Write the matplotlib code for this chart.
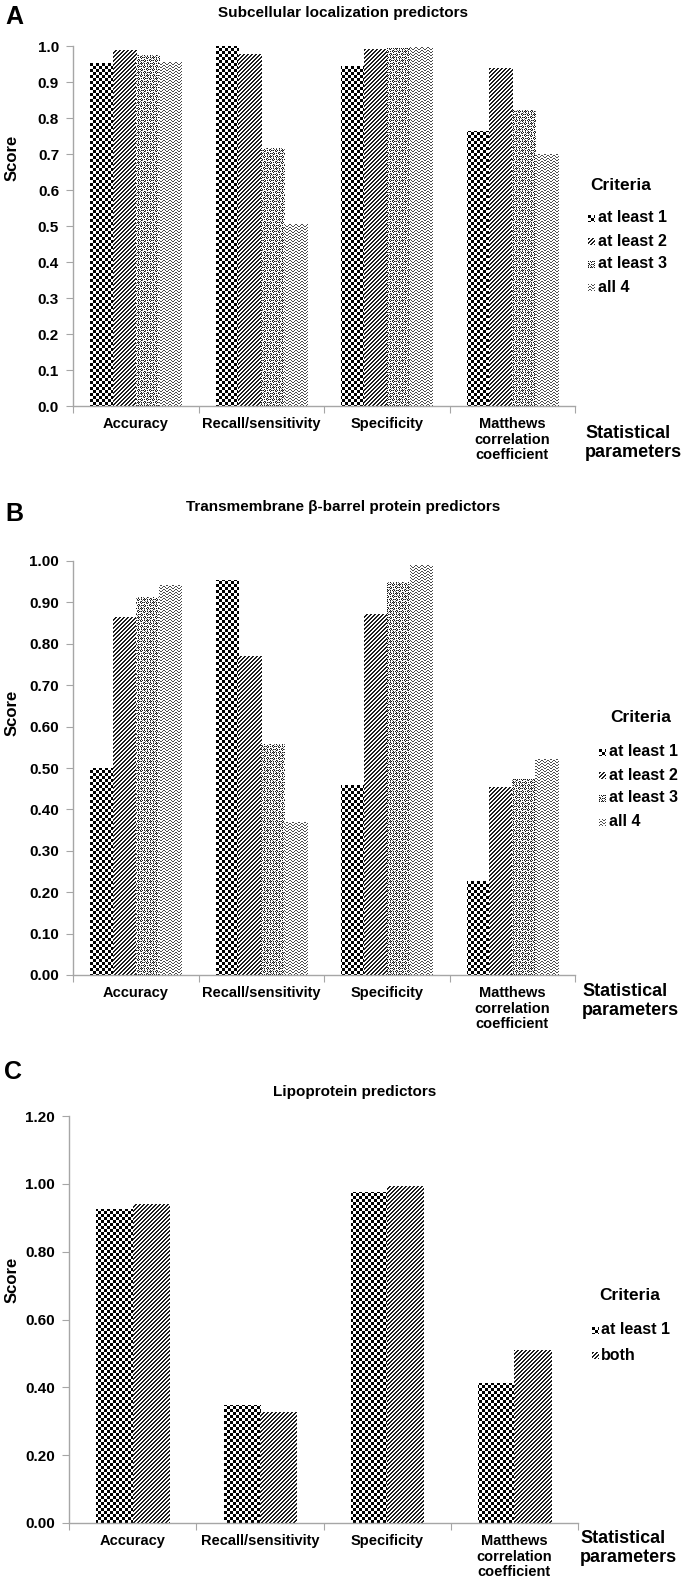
import numpy as np
import matplotlib
matplotlib.use('Agg')
import matplotlib.pyplot as plt

# ---------------- data ----------------
categories = ['Accuracy', 'Recall/sensitivity', 'Specificity',
              'Matthews\ncorrelation\ncoefficient']

a_title = 'Subcellular localization predictors'
a_labels = ['at least 1', 'at least 2', 'at least 3', 'all 4']
a_least1 = [0.952, 1.000, 0.945, 0.764]
a_least2 = [0.989, 0.977, 0.991, 0.938]
a_least3 = [0.975, 0.717, 0.994, 0.822]
a_all4 = [0.956, 0.506, 0.996, 0.699]
a_yticks = [0.0, 0.1, 0.2, 0.3, 0.4, 0.5, 0.6, 0.7, 0.8, 0.9, 1.0]
a_yticklabels = ['0.0', '0.1', '0.2', '0.3', '0.4', '0.5', '0.6', '0.7', '0.8', '0.9', '1.0']

b_title = 'Transmembrane β-barrel protein predictors'
b_labels = ['at least 1', 'at least 2', 'at least 3', 'all 4']
b_least1 = [0.500, 0.954, 0.459, 0.228]
b_least2 = [0.865, 0.770, 0.873, 0.455]
b_least3 = [0.914, 0.558, 0.949, 0.474]
b_all4 = [0.941, 0.370, 0.990, 0.522]
b_yticks = [0.0, 0.1, 0.2, 0.3, 0.4, 0.5, 0.6, 0.7, 0.8, 0.9, 1.0]
b_yticklabels = ['0.00', '0.10', '0.20', '0.30', '0.40', '0.50', '0.60', '0.70', '0.80', '0.90', '1.00']

c_title = 'Lipoprotein predictors'
c_labels = ['at least 1', 'both']
c_least1 = [0.925, 0.347, 0.977, 0.412]
c_both = [0.942, 0.326, 0.995, 0.511]
c_yticks = [0.0, 0.2, 0.4, 0.6, 0.8, 1.0, 1.2]
c_yticklabels = ['0.00', '0.20', '0.40', '0.60', '0.80', '1.00', '1.20']

# ---------------- style ----------------
W, H, DPI = 685, 1581, 100
FAM = ['Liberation Sans', 'DejaVu Sans']
plt.rcParams['font.family'] = FAM
plt.rcParams['font.weight'] = 'bold'
AXC = '#a6a6a6'

fig = plt.figure(figsize=(W / DPI, H / DPI), dpi=DPI)


def px_axes(left, top, right, bottom):
    return fig.add_axes([left / W, 1 - bottom / H, (right - left) / W, (bottom - top) / H])


def texture(kind, h, w):
    y, x = np.mgrid[0:h, 0:w]
    img = np.ones((h, w))
    if kind == 'checker':
        img[((x // 3) + (y // 3)) % 2 == 0] = 0.0
    elif kind == 'diag':
        img[(x + y) % 4 < 2] = 0.12
    elif kind == 'dots':
        m = (((x % 3) == 0) | ((y % 3) == 0)) & ((x + y) % 2 == 0)
        img[m] = 0.1
        img[(~m) & ((x + 2 * y) % 5 == 0)] = 0.45
    elif kind == 'wave':
        offs = np.round(1.3 * np.sin(2 * np.pi * x / 6)).astype(int)
        img[(y + offs) % 3 == 0] = 0.3
    return img


KINDS4 = ['checker', 'diag', 'dots', 'wave']
KINDS2 = ['checker', 'diag']


def panel(box, series, kinds, yticks, yticklabels, ylim):
    left, top, right, bottom = box
    ax = px_axes(left, top, right, bottom)
    ax.patch.set_facecolor('none')
    n = len(series)
    bw = 1.0 / (n + 1.5)
    x = np.arange(len(categories))
    hp, wp = int(bottom - top), int(right - left)
    for i, vals in enumerate(series):
        offs = (i - (n - 1) / 2) * bw
        bars = ax.bar(x + offs, vals, width=bw, facecolor='none', edgecolor='none')
        tex = texture(kinds[i], hp + 2, wp + 2)
        for b in bars:
            im = fig.figimage(tex, xo=left - 1, yo=H - bottom - 1, origin='upper',
                              cmap='gray', vmin=0, vmax=1, zorder=-1)
            im.set_clip_path(b)
    ax.set_xlim(-0.5, len(categories) - 0.5)
    ax.set_ylim(*ylim)
    ax.set_xticks(np.arange(len(categories) + 1) - 0.5)
    ax.set_xticklabels([])
    ax.set_xticks(x, minor=True)
    ax.set_xticklabels(categories, minor=True, fontsize=10.5, linespacing=1.15,
                       fontweight='bold')
    ax.tick_params(axis='x', which='major', length=5, color=AXC, direction='out')
    ax.tick_params(axis='x', which='minor', length=0, pad=8)
    ax.set_yticks(yticks)
    ax.set_yticklabels(yticklabels, fontsize=11, fontweight='bold')
    ax.tick_params(axis='y', length=5, color=AXC, direction='out', pad=5)
    for s in ['top', 'right']:
        ax.spines[s].set_visible(False)
    for s in ['left', 'bottom']:
        ax.spines[s].set_color(AXC)
        ax.spines[s].set_linewidth(1.0)
    return ax


def ftext(x, y, s, **kw):
    fig.text(x / W, 1 - y / H, s, **kw)


def legend(x_marker, x_text, y_title, x_title, ys, labels, kinds):
    ftext(x_title, y_title, 'Criteria', fontsize=12.5, fontweight='bold', va='center', ha='left')
    for yy, lab, k in zip(ys, labels, kinds):
        fig.figimage(texture(k, 7, 7), xo=int(x_marker - 3), yo=int(H - yy - 4),
                     origin='upper', cmap='gray', vmin=0, vmax=1)
        ftext(x_text, yy, lab, fontsize=11.5, fontweight='bold', va='center', ha='left')


# ---------------- panel A ----------------
axA = panel((73, 46, 575, 406), [a_least1, a_least2, a_least3, a_all4], KINDS4,
            a_yticks, a_yticklabels, (0, 1.0))
ftext(14, 17, 'A', fontsize=18, fontweight='bold', ha='center', va='center')
ftext(343, 13, a_title, fontsize=11, fontweight='bold', ha='center', va='center')
ftext(12, 158, 'Score', fontsize=12, fontweight='bold', rotation=90, ha='center', va='center')
ftext(585, 443, 'Statistical\nparameters', fontsize=13, fontweight='bold', ha='left', va='center', linespacing=1.15)
legend(591, 598, 186, 590, [218, 241, 264, 287], a_labels, KINDS4)

# ---------------- panel B ----------------
axB = panel((73, 561, 575, 975), [b_least1, b_least2, b_least3, b_all4], KINDS4,
            b_yticks, b_yticklabels, (0, 1.0))
ftext(14, 514, 'B', fontsize=18, fontweight='bold', ha='center', va='center')
ftext(343, 507, b_title, fontsize=11, fontweight='bold', ha='center', va='center')
ftext(12, 713, 'Score', fontsize=12, fontweight='bold', rotation=90, ha='center', va='center')
ftext(582, 1001, 'Statistical\nparameters', fontsize=13, fontweight='bold', ha='left', va='center', linespacing=1.15)
legend(602, 609, 718, 610, [752, 775, 798, 822], b_labels, KINDS4)

# ---------------- panel C ----------------
axC = panel((69, 1116, 578, 1523), [c_least1, c_both], KINDS2,
            c_yticks, c_yticklabels, (0, 1.2))
ftext(13, 1072, 'C', fontsize=18, fontweight='bold', ha='center', va='center')
ftext(355, 1092, c_title, fontsize=11, fontweight='bold', ha='center', va='center')
ftext(12, 1280, 'Score', fontsize=12, fontweight='bold', rotation=90, ha='center', va='center')
ftext(580, 1548, 'Statistical\nparameters', fontsize=13, fontweight='bold', ha='left', va='center', linespacing=1.15)
legend(595, 601, 1296, 599, [1330, 1355], c_labels, KINDS2)

fig.savefig('out.png', dpi=DPI)
